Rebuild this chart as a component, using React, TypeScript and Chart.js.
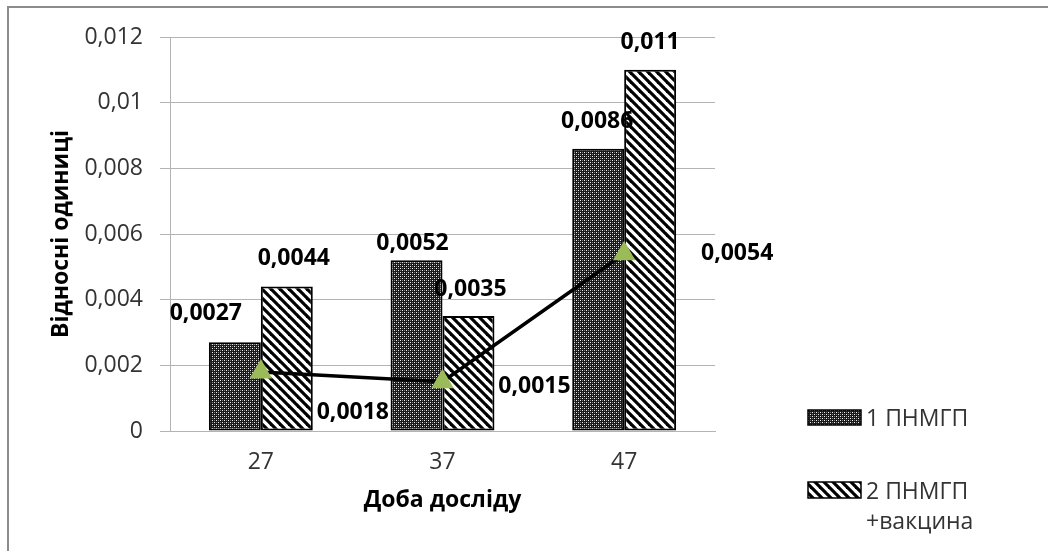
import React, { useEffect, useRef } from 'react';
import { Chart, registerables } from 'chart.js';

Chart.register(...registerables);

// ---- data ----
const categories = ['27', '37', '47'];
const series1Name = '1 ПНМГП';
const series2NameLines = ['2 ПНМГП', '+вакцина'];
const series1 = [0.0027, 0.0052, 0.0086];
const series2 = [0.0044, 0.0035, 0.011];
const lineSeries = [0.0018, 0.0015, 0.0054];
const yMin = 0;
const yMax = 0.012;
const yStep = 0.002;
const yTitle = 'Відносні одиниці';
const xTitle = 'Доба досліду';

// ---- label placement tweaks (px, relative to the mark) ----
const s1LabelOffsets = [[-29, -29], [-4, -17], [-1, -27]];
const s2LabelOffsets = [[7, -28], [2, -27], [0, -27]];
const lineLabelOffsets = [[92, 41], [92, 5], [113, 0]];

const FONT = "'Open Sans', 'Noto Sans', 'DejaVu Sans', sans-serif";
const TEXT = '#333333';
const fmt = (v: number) => String(Number(v.toFixed(4))).replace('.', ',');

function makeStipple(): CanvasPattern | string {
  const c = document.createElement('canvas');
  c.width = 4;
  c.height = 4;
  const g = c.getContext('2d');
  if (!g) return '#555';
  g.fillStyle = '#1a1a1a';
  g.fillRect(0, 0, 4, 4);
  g.fillStyle = '#f0f0f0';
  g.fillRect(0, 0, 1, 1);
  g.fillRect(2, 2, 1, 1);
  g.fillStyle = '#7a7a7a';
  g.fillRect(2, 0, 1, 1);
  g.fillRect(0, 2, 1, 1);
  return g.createPattern(c, 'repeat') || '#555';
}

function makeHatch(): CanvasPattern | string {
  const n = 9;
  const c = document.createElement('canvas');
  c.width = n;
  c.height = n;
  const g = c.getContext('2d');
  if (!g) return '#fff';
  g.fillStyle = '#ffffff';
  g.fillRect(0, 0, n, n);
  g.strokeStyle = '#000000';
  g.lineWidth = 3.2;
  for (const o of [-n, 0, n]) {
    g.beginPath();
    g.moveTo(o - 2, -2);
    g.lineTo(o + n + 2, n + 2);
    g.stroke();
  }
  return g.createPattern(c, 'repeat') || '#fff';
}

export default function App() {
  const ref = useRef<HTMLCanvasElement | null>(null);

  useEffect(() => {
    if (!ref.current) return;
    const stipple = makeStipple();
    const hatch = makeHatch();

    const labelPlugin = {
      id: 'valueLabels',
      afterDatasetsDraw(chart: any) {
        const ctx = chart.ctx;
        ctx.save();
        ctx.font = `bold 23px ${FONT}`;
        ctx.fillStyle = '#000';
        ctx.textAlign = 'center';
        ctx.textBaseline = 'middle';
        const groups: [number, number[], number[][]][] = [
          [1, series1, s1LabelOffsets],
          [2, series2, s2LabelOffsets],
          [0, lineSeries, lineLabelOffsets],
        ];
        for (const [di, vals, offs] of groups) {
          const meta = chart.getDatasetMeta(di);
          meta.data.forEach((el: any, i: number) => {
            ctx.fillText(fmt(vals[i]), el.x + offs[i][0], el.y + offs[i][1]);
          });
        }
        ctx.restore();
      },
      afterDraw(chart: any) {
        const ctx = chart.ctx;
        ctx.save();
        // outer frame (left and top edges)
        ctx.strokeStyle = '#8c8c8c';
        ctx.lineWidth = 2;
        ctx.beginPath();
        ctx.moveTo(8, 551);
        ctx.lineTo(8, 7);
        ctx.lineTo(1048, 7);
        ctx.stroke();
        // legend
        ctx.lineWidth = 1.5;
        ctx.strokeStyle = '#000';
        ctx.fillStyle = stipple as any;
        ctx.fillRect(808, 410, 53, 15);
        ctx.strokeRect(808, 410, 53, 15);
        ctx.fillStyle = hatch as any;
        ctx.fillRect(808, 482, 53, 16);
        ctx.strokeRect(808, 482, 53, 16);
        ctx.font = `23px ${FONT}`;
        ctx.fillStyle = TEXT;
        ctx.textAlign = 'left';
        ctx.textBaseline = 'middle';
        ctx.fillText(series1Name, 866, 419);
        ctx.fillText(series2NameLines[0], 866, 492);
        ctx.fillText(series2NameLines[1], 866, 522);
        ctx.restore();
      },
    };

    const chart = new Chart(ref.current, {
      type: 'bar',
      data: {
        labels: categories,
        datasets: [
          {
            type: 'line',
            label: 'line',
            data: lineSeries,
            order: 0,
            borderColor: '#000',
            borderWidth: 3.5,
            tension: 0,
            pointStyle: 'triangle',
            pointRadius: 13,
            pointBackgroundColor: '#9BBB59',
            pointBorderColor: '#9BBB59',
            pointBorderWidth: 0,
          } as any,
          {
            type: 'bar',
            label: series1Name,
            data: series1,
            order: 1,
            backgroundColor: stipple as any,
            borderColor: '#000',
            borderWidth: 2,
            borderSkipped: false,
          },
          {
            type: 'bar',
            label: series2NameLines.join(' '),
            data: series2,
            order: 2,
            backgroundColor: hatch as any,
            borderColor: '#000',
            borderWidth: 2,
            borderSkipped: false,
          },
        ],
      },
      options: {
        responsive: false,
        animation: false,
        devicePixelRatio: 1,
        categoryPercentage: 0.572,
        barPercentage: 1,
        layout: { padding: { left: 0, top: 37, right: 333, bottom: 0 } },
        plugins: {
          legend: { display: false },
          tooltip: { enabled: false },
        },
        scales: {
          x: {
            grid: { display: false, drawTicks: false },
            border: { display: true, color: '#b3b3b3', width: 1 },
            ticks: { font: { family: FONT, size: 23 }, color: TEXT, padding: 18 },
            title: {
              display: true,
              text: xTitle,
              font: { family: FONT, size: 23, weight: 'bold' },
              color: '#000',
              padding: { top: 0, bottom: 37 },
            },
            afterFit: (s: any) => {
              s.height = 120;
            },
          },
          y: {
            min: yMin,
            max: yMax,
            ticks: {
              stepSize: yStep,
              callback: (v: any) => fmt(Number(v)),
              font: { family: FONT, size: 23 },
              color: TEXT,
              padding: 17,
            },
            grid: { color: '#b3b3b3', lineWidth: 1, tickLength: 10, drawTicks: true },
            border: { color: '#b3b3b3', width: 1 },
            title: {
              display: true,
              text: yTitle,
              font: { family: FONT, size: 23, weight: 'bold' },
              color: '#000',
              padding: { top: 48, bottom: 0 },
            },
            afterFit: (s: any) => {
              s.width = 170;
            },
          },
        },
      } as any,
      plugins: [labelPlugin],
    });
    return () => chart.destroy();
  }, []);

  return (
    <div style={{ position: 'absolute', left: 0, top: 0, width: 1048, height: 551, background: '#fff' }}>
      <canvas ref={ref} width={1048} height={551} style={{ display: 'block' }} />
    </div>
  );
}
